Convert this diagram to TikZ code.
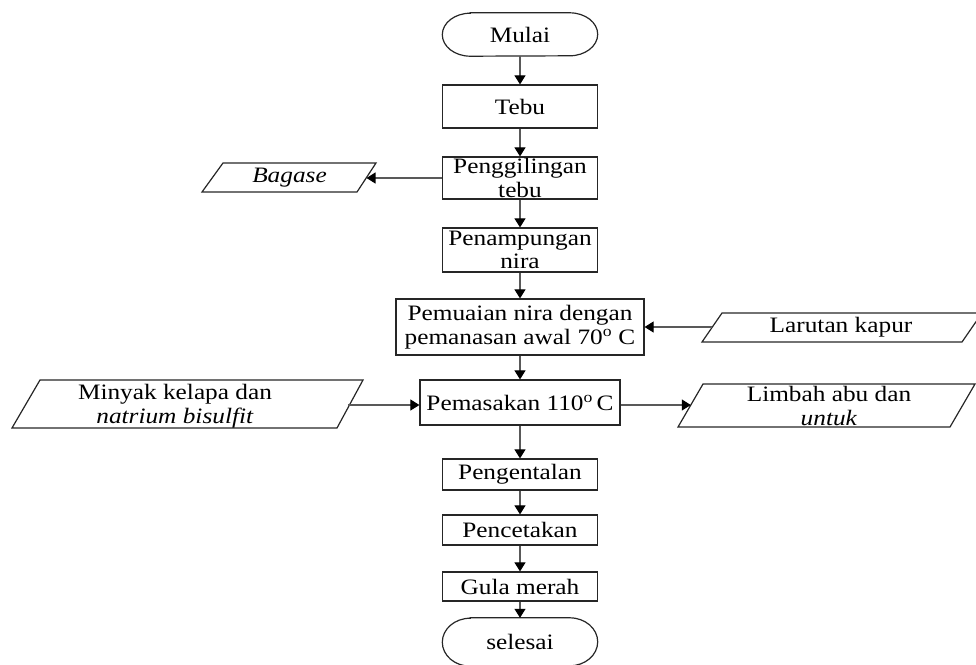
\documentclass[tikz,border=0pt]{standalone}
\usepackage{fontspec}
\setmainfont{Liberation Serif}[FakeStretch=1.15]
\usetikzlibrary{arrows.meta}
\begin{document}
\begin{tikzpicture}[x=1pt,y=-1pt,
  every node/.style={font=\fontsize{22}{23.5}\selectfont, inner sep=0pt, align=center},
  box/.style={draw=black!85, line width=1.2pt, minimum width=155pt},
  term/.style={minimum width=155pt},
  shp/.style={draw=black!85, line width=1.2pt},
  conn/.style={draw=black!65, line width=1.1pt, -{Triangle[length=9pt,width=11pt,color=black]}}]
\useasboundingbox (0,0) rectangle (976,664);
\newcommand\termpath[2]{\draw[shp] ([xshift=28pt]#1.north west) -- ([xshift=-28pt]#1.north east)
  arc[start angle=90,end angle=-90,x radius=28pt,y radius=#2]
  -- ([xshift=28pt]#1.south west)
  arc[start angle=270,end angle=90,x radius=28pt,y radius=#2] -- cycle;}

% main column
\node[term, minimum height=43pt] (mulai) at (520,34.5) {Mulai};
\termpath{mulai}{21.5pt}
\node[box, minimum height=43pt] (tebu) at (520,106.5) {Tebu};
\node[box, minimum height=42pt] (giling) at (520,178) {Penggilingan\\tebu};
\node[box, minimum height=44pt] (tampung) at (520,250) {Penampungan\\nira};
\node[box, minimum width=248pt, minimum height=56pt] (muai) at (520,327) {Pemuaian nira dengan\\pemanasan awal 70\textsuperscript{o} C};
\node[box, minimum width=200pt, minimum height=45pt] (masak) at (520,402.5) {Pemasakan 110\textsuperscript{o}\,C};
\node[box, minimum height=31pt] (kental) at (520,474.5) {Pengentalan};
\node[box, minimum height=30pt] (cetak) at (520,530) {Pencetakan};
\node[box, minimum height=29pt] (gula) at (520,586.5) {Gula merah};
\node[term, minimum height=48pt] (selesai) at (520,642) {selesai};
\termpath{selesai}{24pt}

\draw[conn] (mulai.south) -- (tebu.north);
\draw[conn] (tebu.south) -- (giling.north);
\draw[conn] (giling.south) -- (tampung.north);
\draw[conn] (tampung.south) -- (muai.north);
\draw[conn] (muai.south) -- (masak.north);
\draw[conn] (masak.south) -- (kental.north);
\draw[conn] (kental.south) -- (cetak.north);
\draw[conn] (cetak.south) -- (gula.north);
\draw[conn] (gula.south) -- (selesai.north);

% Bagase
\draw[shp] (223,163) -- (376,163) -- (357,192) -- (202,192) -- cycle;
\node (bag) at (289.5,177.5) {\textit{Bagase}};
\coordinate (bagR) at (366.5,178);
\draw[conn] (giling.west) -- (bagR);

% Larutan kapur
\draw[shp] (722,313) -- (982,313) -- (962,342) -- (702,342) -- cycle;
\node (larutan) at (841,327.5) {Larutan kapur};
\coordinate (larL) at (712,327);
\draw[conn] (larL) -- (larL -| muai.east);

% Minyak kelapa
\draw[shp] (40,380) -- (363,380) -- (337,428) -- (12,428) -- cycle;
\node (minyak) at (175,406) {Minyak kelapa dan\\\textit{natrium bisulfit}};
\coordinate (minR) at (348.4,405);
\draw[conn] (minR) -- (minR -| masak.west);

% Limbah
\draw[shp] (703,384) -- (975,384) -- (950,427) -- (678,427) -- cycle;
\node (limbah) at (829,406) {Limbah abu dan\\\textit{untuk}};
\coordinate (limL) at (690.8,405);
\draw[conn] (masak.east |- limL) -- (limL);
\end{tikzpicture}
\end{document}
